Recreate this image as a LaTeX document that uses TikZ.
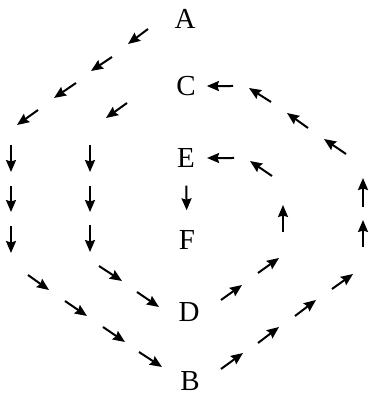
\documentclass[tikz,border=0pt]{standalone}
\usepackage{fontspec}
\setmainfont{Liberation Serif}
\usetikzlibrary{arrows.meta}

\begin{document}
\begin{tikzpicture}[
  x=1pt,y=-1pt,
  letter/.style={inner sep=0.5pt,anchor=base,font=\fontsize{29}{29}\selectfont},
  arrow/.style={-{Stealth[length=12pt,width=10pt,inset=1.5pt]},line width=2pt,color=black}
]
  \useasboundingbox (0,0) rectangle (368,395);
  \node[letter] (A) at (185,28.5) {A};
  \node[letter] (C) at (186,95.5) {C};
  \node[letter] (E) at (186,167.5) {E};
  \node[letter] (F) at (187,249.5) {F};
  \node[letter] (D) at (189,321.5) {D};
  \node[letter] (B) at (190,390) {B};
  \draw[arrow] (148,29) -- (128,44);
  \draw[arrow] (112,57) -- (91,71);
  \draw[arrow] (76,83) -- (54,98);
  \draw[arrow] (38,110) -- (17,125);
  \draw[arrow] (11,145) -- (11,172);
  \draw[arrow] (11,186) -- (11,212);
  \draw[arrow] (11,226) -- (11,253);
  \draw[arrow] (28,275) -- (49,290);
  \draw[arrow] (65,301) -- (87,316);
  \draw[arrow] (103,327) -- (125,342);
  \draw[arrow] (139,352) -- (162,367);
  \draw[arrow] (221,369) -- (243,353);
  \draw[arrow] (258,343) -- (279,327);
  \draw[arrow] (295,316) -- (316,300);
  \draw[arrow] (332,289) -- (353,274);
  \draw[arrow] (363,247) -- (363,220);
  \draw[arrow] (363,207) -- (363,178);
  \draw[arrow] (346,154) -- (324,139);
  \draw[arrow] (308,128) -- (287,113);
  \draw[arrow] (271,102) -- (249,88);
  \draw[arrow,shorten >=10.5pt] (233,86) -- (C);
  \draw[arrow] (127,103) -- (106,118);
  \draw[arrow] (90,145) -- (90,172);
  \draw[arrow] (90,186) -- (90,212);
  \draw[arrow] (90,225) -- (90,252);
  \draw[arrow] (99,266) -- (122,281);
  \draw[arrow] (137,292) -- (159,307);
  \draw[arrow] (221,300) -- (242,285);
  \draw[arrow] (258,273) -- (279,258);
  \draw[arrow] (283,232) -- (283,205);
  \draw[arrow] (272,176) -- (250,161);
  \draw[arrow,shorten >=11.5pt] (234,158) -- (E);
  \draw[arrow,shorten <=17.5pt,shorten >=19.5pt] (E) -- (F);
\end{tikzpicture}
\end{document}
